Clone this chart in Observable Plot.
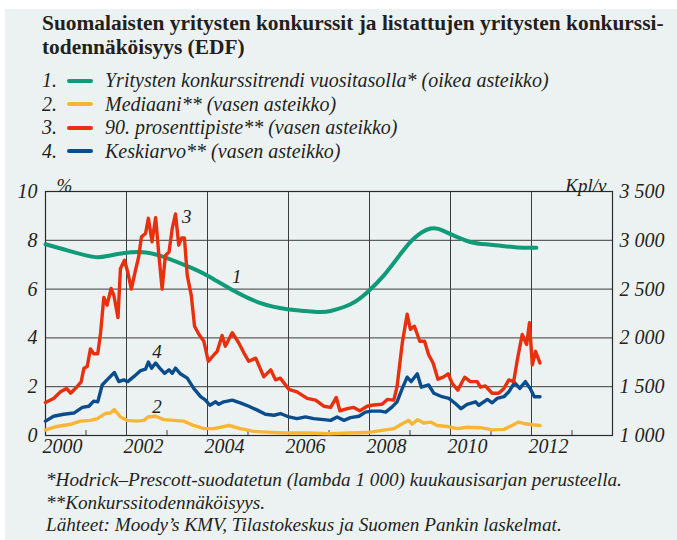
<!DOCTYPE html>
<html><head><meta charset="utf-8">
<script src="https://cdn.jsdelivr.net/npm/d3@7"></script>
<script src="https://cdn.jsdelivr.net/npm/@observablehq/plot@0.6"></script>
<style>
body{margin:0;background:#fff;}
#page{position:relative;width:677px;height:540px;background:#fff;overflow:hidden;font-family:"Liberation Serif",serif;color:#231f20;}
#panel{position:absolute;left:5px;top:9px;right:0;bottom:0;background:#ecf2f2;}
#title{position:absolute;left:42px;top:12px;font-weight:bold;font-size:21.4px;line-height:23.5px;white-space:nowrap;}
#legend{position:absolute;left:42px;top:69px;font-style:italic;font-size:20px;}
.row{height:23.5px;display:flex;align-items:center;white-space:nowrap;}
.num{width:25px;}
.sw{width:26px;height:4px;border-radius:2px;margin-right:12px;}
#chart{position:absolute;left:0;top:160px;}
#notes{position:absolute;left:46px;top:469px;font-style:italic;font-size:19.2px;line-height:22.5px;white-space:nowrap;}
</style>
</head><body>
<div id="page">
  <div id="panel"></div>
  <div id="title">Suomalaisten yritysten konkurssit ja listattujen yritysten konkurssi-<br>todennäköisyys (EDF)</div>
  <div id="legend"></div>
  <div id="chart"></div>
  <div id="notes"></div>
</div>
<script>
// ---- Data ----
const seriesNames = [
  "Yritysten konkurssitrendi vuositasolla* (oikea asteikko)",
  "Mediaani** (vasen asteikko)",
  "90. prosenttipiste** (vasen asteikko)",
  "Keskiarvo** (vasen asteikko)"
];
const seriesColors = ["#0f9a78", "#fbb534", "#e8300e", "#0b4d8c"];

// years since start of 2000
const trendT = [0.00,0.53,1.19,1.60,2.26,2.84,3.50,3.99,4.65,5.31,5.97,6.71,7.04,7.53,7.94,8.35,8.77,9.09,9.51,9.92,10.49,10.99,11.65,12.12];
const trendV = [2960,2898,2830,2845,2880,2840,2735,2640,2483,2356,2294,2266,2276,2345,2466,2638,2862,3017,3121,3079,2983,2955,2927,2924];

const medianT = [0.00,0.29,0.62,0.86,1.11,1.28,1.48,1.60,1.70,1.85,2.02,2.26,2.43,2.53,2.72,2.92,3.17,3.41,3.66,3.91,4.16,4.53,4.81,5.14,5.47,5.88,6.50,7.00,7.50,7.94,8.19,8.60,8.81,8.97,9.05,9.19,9.34,9.51,9.67,9.92,10.17,10.41,10.74,11.03,11.32,11.52,11.68,11.85,12.02,12.21];
const medianV = [0.23,0.37,0.46,0.59,0.62,0.69,0.90,0.92,1.06,0.76,0.62,0.59,0.62,0.76,0.79,0.65,0.62,0.59,0.41,0.28,0.28,0.41,0.28,0.17,0.14,0.10,0.10,0.07,0.10,0.12,0.18,0.28,0.48,0.62,0.46,0.65,0.51,0.55,0.41,0.37,0.28,0.34,0.32,0.23,0.25,0.41,0.55,0.48,0.44,0.41];

const p90T = [0.00,0.20,0.37,0.52,0.62,0.78,0.88,0.95,1.03,1.11,1.19,1.29,1.36,1.44,1.52,1.62,1.69,1.79,1.85,1.95,2.03,2.12,2.22,2.30,2.37,2.47,2.54,2.63,2.72,2.80,2.88,2.96,3.05,3.13,3.21,3.29,3.36,3.43,3.50,3.60,3.68,3.79,3.91,4.02,4.16,4.24,4.36,4.44,4.61,4.77,4.90,5.02,5.19,5.39,5.56,5.68,5.80,6.01,6.21,6.46,6.67,6.87,7.04,7.18,7.27,7.45,7.61,7.76,7.94,8.10,8.31,8.44,8.60,8.68,8.81,8.93,9.01,9.11,9.24,9.36,9.46,9.57,9.69,9.82,9.94,10.04,10.18,10.35,10.49,10.66,10.74,10.86,11.03,11.19,11.32,11.44,11.56,11.65,11.77,11.88,11.95,12.02,12.10,12.21];
const p90V = [1.35,1.52,1.79,1.93,1.73,2.00,2.20,2.76,2.83,3.55,3.35,3.35,4.20,5.66,5.34,6.03,5.73,4.83,6.83,7.18,6.70,6.00,6.76,7.32,8.14,8.28,8.90,7.94,8.93,7.38,6.00,7.38,7.52,8.49,9.08,7.80,8.10,8.10,6.56,5.73,4.48,4.14,3.86,3.04,3.31,3.45,4.10,3.66,4.21,3.80,3.38,3.04,3.17,2.41,2.69,2.28,2.35,1.89,1.79,1.52,1.45,1.20,1.15,1.56,1.01,1.10,1.15,1.01,1.20,1.25,1.28,1.48,1.45,2.00,3.80,4.97,4.35,4.48,3.86,3.86,3.31,2.97,2.31,2.39,2.53,2.14,1.86,2.39,2.21,2.21,1.98,2.03,1.73,1.73,1.93,2.28,2.21,3.10,4.14,3.73,4.62,2.90,3.45,2.97];

const meanT = [0.00,0.20,0.45,0.70,0.91,1.07,1.19,1.29,1.40,1.52,1.70,1.81,1.93,2.03,2.18,2.35,2.47,2.54,2.62,2.72,2.82,2.94,3.05,3.13,3.21,3.33,3.50,3.66,3.83,3.95,4.06,4.20,4.28,4.40,4.61,4.81,5.02,5.23,5.43,5.64,5.80,6.01,6.21,6.42,6.62,6.87,7.04,7.20,7.37,7.53,7.74,7.90,8.05,8.27,8.40,8.56,8.68,8.81,8.93,9.03,9.18,9.28,9.46,9.59,9.79,9.96,10.12,10.26,10.41,10.62,10.70,10.91,11.03,11.15,11.32,11.44,11.58,11.71,11.85,11.98,12.07,12.21];
const meanV = [0.59,0.79,0.87,0.92,1.15,1.20,1.41,1.38,2.07,2.28,2.58,2.21,2.28,2.21,2.41,2.66,2.72,3.01,2.76,2.97,2.76,2.55,2.69,2.55,2.76,2.53,2.35,1.93,1.59,1.45,1.24,1.38,1.28,1.38,1.45,1.34,1.20,1.04,0.87,0.83,0.90,0.76,0.69,0.76,0.69,0.65,0.62,0.76,0.62,0.73,0.79,0.96,1.00,1.00,0.96,1.17,1.38,1.93,2.39,2.21,2.53,1.98,2.07,1.73,1.59,1.52,1.31,1.10,1.28,1.38,1.24,1.48,1.34,1.52,1.59,1.79,2.17,1.93,2.21,1.89,1.59,1.59];

const gridYears = [2000,2002,2004,2006,2008,2010,2012,2014];
const oddYears = [2001,2003,2005,2007,2009,2011,2013];
const yearLabels = [2000,2002,2004,2006,2008,2010,2012];
const leftTicks = [0,2,4,6,8,10];
const rightTicks = [1000,1500,2000,2500,3000,3500];
const lineLabels = ["1","2","3","4"];
const lineLabelT = [4.72,2.75,3.49,2.75];
const lineLabelV = [6.49,1.16,8.95,3.41];
const footnotes = [
  "*Hodrick–Prescott-suodatetun (lambda 1 000) kuukausisarjan perusteella.",
  "**Konkurssitodennäköisyys.",
  "Lähteet: Moody’s KMV, Tilastokeskus ja Suomen Pankin laskelmat."
];

// ---- Build ----
const toRows = (T, V) => T.map((t, i) => ({x: 2000 + t, v: V[i]}));
const trend = toRows(trendT, trendV);
const median = toRows(medianT, medianV);
const p90 = toRows(p90T, p90V);
const mean = toRows(meanT, meanV);
const rightToLeft = k => (k - 1000) / 250;
const fmt = n => String(n).replace(/\B(?=(\d{3})+(?!\d))/g, " ");

const legend = document.getElementById("legend");
seriesNames.forEach((name, i) => {
  const row = document.createElement("div");
  row.className = "row";
  row.innerHTML = `<span class="num">${i + 1}.</span><span class="sw" style="background:${seriesColors[i]}"></span><span>${name}</span>`;
  legend.appendChild(row);
});
document.getElementById("notes").innerHTML = footnotes.map(s => `<div>${s}</div>`).join("");

const ink = "#231f20";
const grid = "#3c3c3c";
const chart = Plot.plot({
  width: 677,
  height: 305,
  marginLeft: 45,
  marginRight: 65,
  marginTop: 31,
  marginBottom: 30,
  style: {background: "transparent", fontFamily: "'Liberation Serif', serif", fontStyle: "italic", fontSize: "20px", color: ink, overflow: "visible"},
  x: {domain: [2000, 2014], axis: null},
  y: {domain: [0, 10], axis: null},
  marks: [
    Plot.ruleY(leftTicks, {stroke: grid, strokeWidth: 1}),
    Plot.ruleX(gridYears, {stroke: grid, strokeWidth: 1}),
    Plot.ruleX(oddYears, {y1: 0, y2: 0.2, stroke: grid, strokeWidth: 1}),
    Plot.frame({stroke: "#2a2a2a", strokeWidth: 1.2}),
    Plot.line(trend, {x: "x", y: d => rightToLeft(d.v), stroke: seriesColors[0], strokeWidth: 4, curve: "natural"}),
    Plot.line(median, {x: "x", y: "v", stroke: seriesColors[1], strokeWidth: 3.4, strokeLinejoin: "round"}),
    Plot.line(mean, {x: "x", y: "v", stroke: seriesColors[3], strokeWidth: 3.4, strokeLinejoin: "round"}),
    Plot.line(p90, {x: "x", y: "v", stroke: seriesColors[2], strokeWidth: 3.4, strokeLinejoin: "round"}),
    Plot.text(lineLabels, {x: (d, i) => 2000 + lineLabelT[i], y: (d, i) => lineLabelV[i], text: d => d, fill: ink, fontSize: 19}),
    Plot.text(leftTicks, {y: d => d, text: d => String(d), frameAnchor: "left", textAnchor: "end", dx: -8, fill: ink}),
    Plot.text(rightTicks, {y: d => rightToLeft(d), text: d => fmt(d), frameAnchor: "right", textAnchor: "start", dx: 7, fill: ink}),
    Plot.text(yearLabels, {x: d => d + 0.42, text: d => String(d), frameAnchor: "bottom", dy: 17, fill: ink}),
    Plot.text(["%"], {frameAnchor: "top-left", dx: 11, dy: -13, fill: ink, fontSize: 19}),
    Plot.text(["Kpl/v"], {frameAnchor: "top-right", textAnchor: "end", dx: -6, dy: -13, fill: ink, fontSize: 19})
  ]
});
document.getElementById("chart").appendChild(chart);
</script>
</body></html>
